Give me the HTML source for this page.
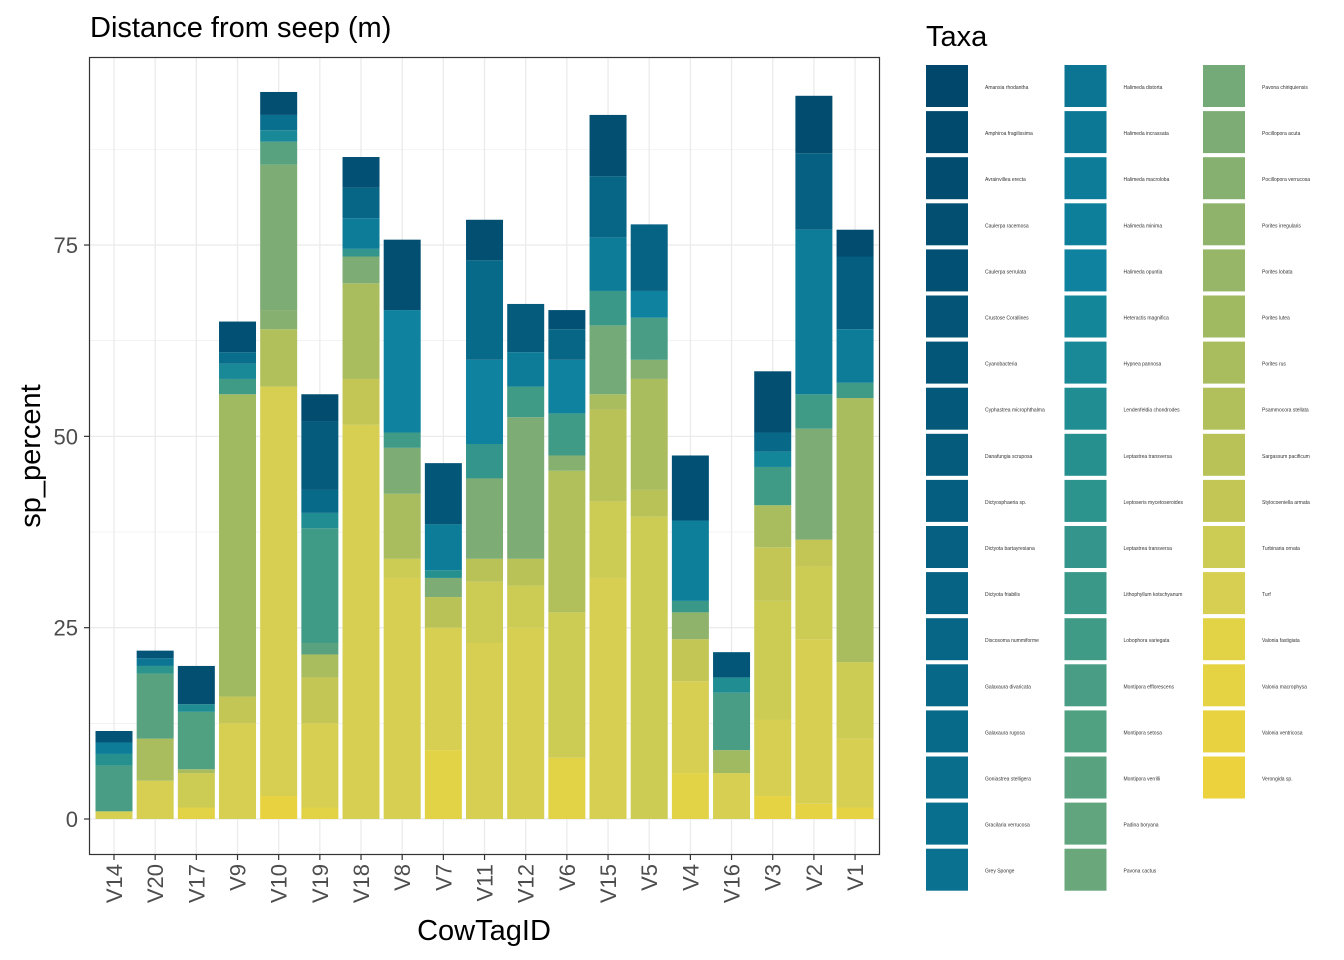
<!DOCTYPE html>
<html><head><meta charset="utf-8"><style>
body{margin:0;background:#fff;font-family:"Liberation Sans",Arial,sans-serif}
svg{display:block}
</style></head><body>
<svg id="chart" width="1344" height="960" xmlns="http://www.w3.org/2000/svg">
<text x="90" y="37" font-size="29" fill="#000">Distance from seep (m)</text>
<rect x="89.5" y="57.5" width="790" height="797" fill="#fff"/>
<g id="grid"></g><g id="bars"></g>
<rect x="89.5" y="57.5" width="790" height="797" fill="none" stroke="#333" stroke-width="1.2"/>
<g id="yaxis"></g><g id="xaxis"></g>
<text transform="translate(40,456) rotate(-90)" text-anchor="middle" font-size="29" fill="#000">sp_percent</text>
<text x="484" y="940" text-anchor="middle" font-size="29" fill="#000">CowTagID</text>
<text x="926" y="46" font-size="29" fill="#000">Taxa</text>
<g id="legend"></g>
</svg>
<script>
const taxa=["Amansia rhodantha","Amphiroa fragilissima","Avrainvillea erecta","Caulerpa racemosa","Caulerpa serrulata","Crustose Corallines","Cyanobacteria","Cyphastrea microphthalma","Danafungia scruposa","Dictyosphaeria sp.","Dictyota bartayresiana","Dictyota friabilis","Discosoma nummiforme","Galaxaura divaricata","Galaxaura rugosa","Goniastrea stelligera","Gracilaria verrucosa","Grey Sponge","Halimeda distorta","Halimeda incrassata","Halimeda macroloba","Halimeda minima","Halimeda opuntia","Heteractis magnifica","Hypnea pannosa","Lendenfeldia chondrodes","Leptastrea transversa","Leptoseris mycetoseroides","Leptastrea transversa","Lithophyllum kotschyanum","Lobophora variegata","Montipora efflorescens","Montipora setosa","Montipora verrilli","Padina boryana","Pavona cactus","Pavona chiriquiensis","Pocillopora acuta","Pocillopora verrucosa","Porites irregularis","Porites lobata","Porites lutea","Porites rus","Psammocora stellata","Sargassum pacificum","Stylocoeniella armata","Turbinaria ornata","Turf","Valonia fastigiata","Valonia macrophysa","Valonia ventricosa","Verongida sp."];
const categories=["V14","V20","V17","V9","V10","V19","V18","V8","V7","V11","V12","V6","V15","V5","V4","V16","V3","V2","V1"];
// taxon index per segment (bottom to top) and cumulative top value of each segment
const segTaxa=[
[47,31,26,20,5],[47,42,33,27,18,5],[48,46,42,32,25,3],[47,45,41,30,24,15,4],
[50,47,43,38,37,33,24,16,3],[48,47,45,42,33,30,25,14,8,2],[47,45,42,37,28,20,12,4],
[47,46,42,37,30,22,3],[48,47,44,37,26,20,6],[47,46,44,37,28,22,14,3],[47,46,44,37,30,20,8],
[48,46,43,38,30,22,12,4],[47,46,44,42,36,29,20,12,3],[46,44,42,38,31,22,11],[48,47,45,39,29,21,4],
[47,41,31,25,6],[49,47,46,45,42,30,23,13,3],[49,47,46,45,37,30,20,10,2],[49,47,46,42,30,20,9,2]];
const segTops=[
[1,7,8.5,10,11.5],[5,10.5,19,20,21,22],[1.5,6,6.5,14,15,20],[12.5,16,55.5,57.5,59.5,61,65],
[3,56.5,64,66.5,85.5,88.5,90,92,95],[1.5,12.5,18.5,21.5,23,38,40,43,52,55.5],[51.5,57.5,70,73.5,74.5,78.5,82.5,86.5],
[31.5,34,42.5,48.5,50.5,66.5,75.7],[9,25,29,31.5,32.5,38.5,46.5],[23,31,34,44.5,49,60,73,78.3],[25,30.5,34,52.5,56.5,61,67.3],
[8,27,45.5,47.5,53,60,64,66.5],[31.5,41.5,53.5,55.5,64.5,69,76,84,92],[39.5,43,57.5,60,65.5,69,77.7],[6,18,23.5,27,28.5,39,47.5],
[6,9,16.5,18.5,21.8],[3,13,28.5,35.5,41,46,48,50.5,58.5],[2,23.5,33,36.5,51,55.5,77,87,94.5],[1.5,10.5,20.5,55,57,64,73.5,77]];
const yTicks=[0,25,50,75];
const NS="http://www.w3.org/2000/svg";
function mk(t,a,p){const e=document.createElementNS(NS,t);for(const k in a)e.setAttribute(k,a[k]);p.appendChild(e);return e;}
const y0=819,pxPer=7.653;
function Y(v){return y0-v*pxPer;}
function X(i){return 114+i*41.17;}
const stops=[[0,[0,71,107]],[17,[10,114,144]],[22,[14,130,158]],[26,[38,144,143]],[30,[63,154,134]],[35,[106,168,124]],[36,[116,169,120]],[42,[169,189,94]],[44,[185,194,87]],[47,[214,207,82]],[48,[226,211,70]],[51,[236,210,60]]];
function col(i){for(let k=0;k<stops.length-1;k++){const a=stops[k],b=stops[k+1];if(i>=a[0]&&i<=b[0]){const t=(i-a[0])/(b[0]-a[0]);return "rgb("+a[1].map((c,j)=>Math.round(c+(b[1][j]-c)*t)).join(",")+")";}}return "#000";}
const grid=document.getElementById('grid');
for(let v=-12.5;v<=100;v+=12.5){const y=Y(v);if(y<58||y>854)continue;const l=mk('line',{x1:90,x2:879,y1:y,y2:y,stroke:'#ebebeb','stroke-width':yTicks.includes(v)?1.3:0.6},grid);

}
categories.forEach((c,i)=>{const l=mk('line',{x1:X(i),x2:X(i),y1:58,y2:854,stroke:'#ebebeb','stroke-width':1.3},grid);

});
const bars=document.getElementById('bars');
categories.forEach((c,i)=>{let prev=0;segTops[i].forEach((top,j)=>{const r=mk('rect',{x:X(i)-18.5,width:37,y:Y(top),height:Y(prev)-Y(top),fill:col(segTaxa[i][j])},bars);


prev=top;});});
const ya=document.getElementById('yaxis');
yTicks.forEach(v=>{const l=mk('line',{x1:84,x2:89,y1:Y(v),y2:Y(v),stroke:'#333','stroke-width':1.2},ya);


const t=mk('text',{x:78,y:Y(v)+8,'text-anchor':'end','font-size':22,fill:'#4d4d4d'},ya);t.textContent=v;

});
const xa=document.getElementById('xaxis');
categories.forEach((c,i)=>{const l=mk('line',{x1:X(i),x2:X(i),y1:855,y2:860,stroke:'#333','stroke-width':1.2},xa);


const t=mk('text',{transform:`translate(${X(i)+8},864) rotate(-90)`,'text-anchor':'end','font-size':22,fill:'#4d4d4d'},xa);t.textContent=c;

});
const lg=document.getElementById('legend');
taxa.forEach((n,i)=>{const cI=Math.floor(i/18),r=i%18;const x=926+cI*138.5,y=65+r*46.1;
const g=mk('g',{},lg);


mk('rect',{x:x,y:y,width:42,height:42,fill:col(i)},g);
const t=mk('text',{x:x+59,y:y+24,'font-size':5,fill:'#333'},g);t.textContent=n;});
</script>
</body></html>
